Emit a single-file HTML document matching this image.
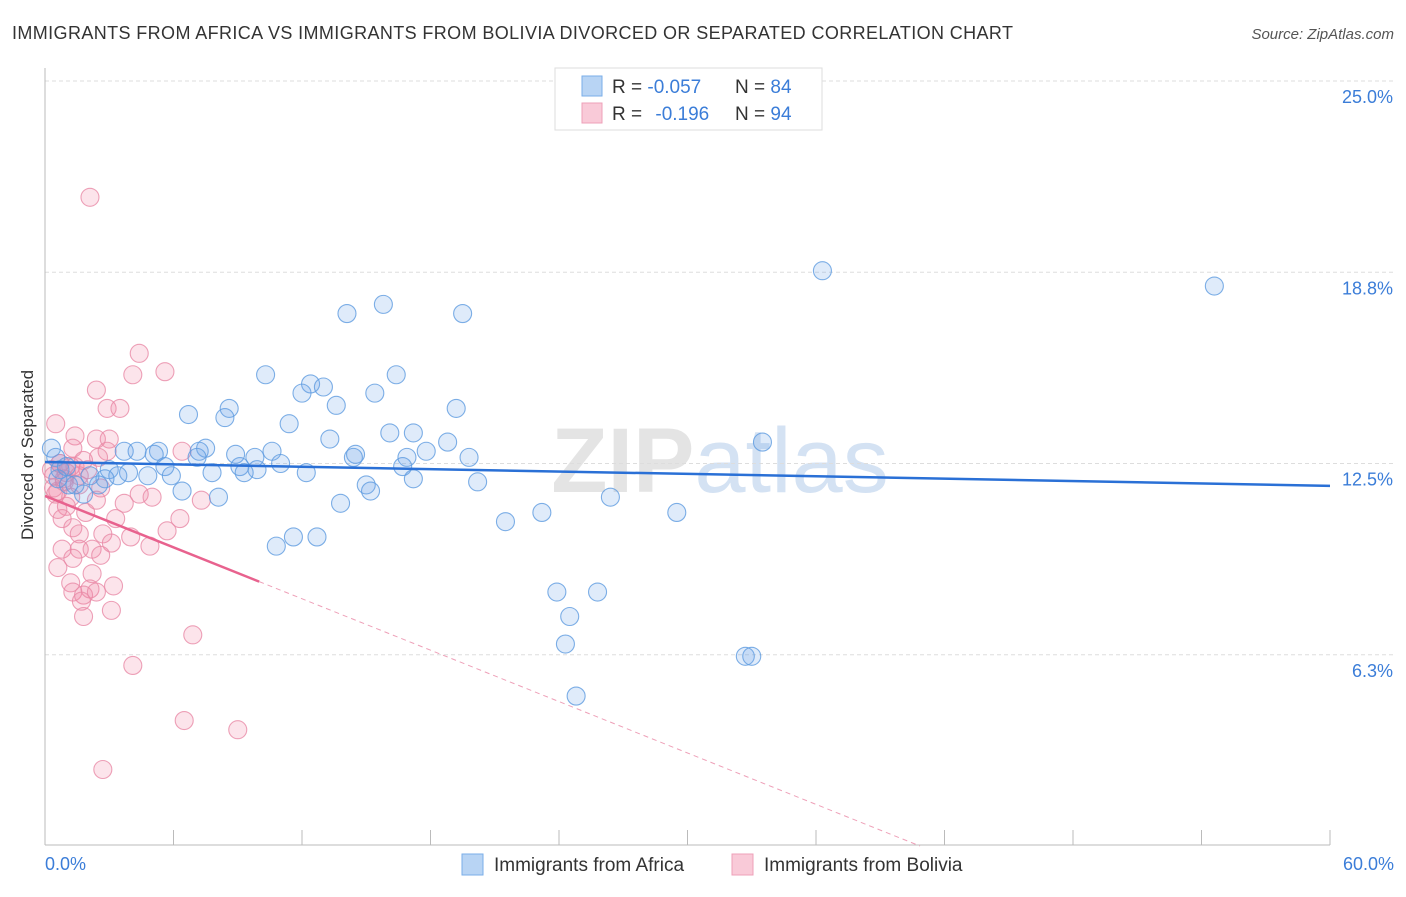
<!DOCTYPE html>
<html><head><meta charset="utf-8"><style>
body{margin:0;background:#fff;font-family:"Liberation Sans",sans-serif;}
svg text{font-family:"Liberation Sans",sans-serif;}
</style></head><body>
<svg id="chart" width="1406" height="892">
<text x="12" y="39" font-size="18" fill="#333" textLength="1001" lengthAdjust="spacing">IMMIGRANTS FROM AFRICA VS IMMIGRANTS FROM BOLIVIA DIVORCED OR SEPARATED CORRELATION CHART</text>
<text x="1394" y="39" font-size="15" fill="#555" font-style="italic" text-anchor="end">Source: ZipAtlas.com</text>
<text x="720" y="492" font-size="92" fill="#e4e4e4" text-anchor="middle" font-weight="bold">ZIP<tspan fill="#d4e2f3" font-weight="normal">atlas</tspan></text>
<g id="grid"></g>
<line x1="45" y1="68" x2="45" y2="845" stroke="#bbb"/>
<line x1="45" y1="845" x2="1330" y2="845" stroke="#bbb"/>
<g id="xticks"></g>
<text transform="translate(33,455) rotate(-90)" font-size="17" fill="#333" text-anchor="middle">Divorced or Separated</text>
<text x="45" y="870" font-size="18" fill="#3b7dd8">0.0%</text>
<text x="1394" y="870" font-size="18" fill="#3b7dd8" text-anchor="end">60.0%</text>
<g id="points"></g>
<g id="trends"></g>
<g>
<rect x="555" y="68" width="267" height="62" fill="#fff" stroke="#ddd"/>
<rect x="582" y="76" width="20" height="20" fill="#b8d4f4" stroke="#7aaee8"/>
<rect x="582" y="103" width="20" height="20" fill="#f9cad8" stroke="#eea0b8"/>
<text x="612" y="93" font-size="19" fill="#333">R = <tspan fill="#3b7dd8">-0.057</tspan><tspan x="735">N = </tspan><tspan fill="#3b7dd8">84</tspan></text>
<text x="612" y="120" font-size="19" fill="#333">R = <tspan fill="#3b7dd8" dx="8">-0.196</tspan><tspan x="735">N = </tspan><tspan fill="#3b7dd8">94</tspan></text>
</g>
<g>
<rect x="462" y="854" width="21" height="21" fill="#b8d4f4" stroke="#7aaee8"/>
<text x="494" y="871" font-size="19" fill="#333">Immigrants from Africa</text>
<rect x="732" y="854" width="21" height="21" fill="#f9cad8" stroke="#eea0b8"/>
<text x="764" y="871" font-size="19" fill="#333">Immigrants from Bolivia</text>
</g>
</svg>
<script>
const yTicks=[25.0,18.8,12.5,6.3];
const yTickVals=[25,18.75,12.5,6.25];
const africaX=[36.3,54.6,15.8,14.1,19.5,10.3,16.4,12.4,13.0,12.0,15.4,13.6,19.2,8.6,6.7,8.4,11.4,16.1,17.2,13.3,18.8,33.5,7.5,17.8,14.5,10.6,5.3,3.7,7.2,4.3,5.1,8.9,9.8,14.4,16.9,19.8,7.1,11.0,5.6,16.7,3.0,9.1,9.9,7.8,12.2,3.9,4.8,3.4,5.9,9.3,2.8,17.2,2.5,1.1,20.2,15.0,6.4,15.2,1.8,8.1,26.4,13.8,23.2,29.5,21.5,11.6,12.7,10.8,23.9,25.8,24.5,24.3,32.7,33.0,24.8,0.3,0.5,0.7,1.4,2.1,0.6,1.0];
const africaY=[18.8,18.3,17.7,17.4,17.4,15.4,15.4,15.1,15.0,14.8,14.8,14.4,14.3,14.3,14.1,14.0,13.8,13.5,13.5,13.3,13.2,13.2,13.0,12.9,12.8,12.9,12.9,12.9,12.9,12.9,12.8,12.8,12.7,12.7,12.7,12.7,12.7,12.5,12.4,12.4,12.3,12.4,12.3,12.2,12.2,12.2,12.1,12.1,12.1,12.2,12.0,12.0,11.8,11.8,11.9,11.8,11.6,11.6,11.5,11.4,11.4,11.2,10.9,10.9,10.6,10.1,10.1,9.8,8.3,8.3,7.5,6.6,6.2,6.2,4.9,13.0,12.7,12.3,11.8,12.1,12.0,12.4];
const boliviaX=[2.1,4.4,5.6,4.1,2.4,2.9,3.5,0.5,1.4,2.4,3.0,1.3,2.9,6.4,1.8,2.5,0.7,1.2,2.0,0.4,0.9,1.6,2.6,0.6,1.2,4.4,5.0,7.3,2.4,3.7,1.0,0.6,1.9,0.8,3.3,6.3,1.3,1.6,2.7,5.7,4.0,3.1,4.9,0.8,1.6,2.2,2.6,1.3,0.6,2.2,1.2,3.2,2.1,1.3,1.8,2.4,1.7,3.1,1.8,6.9,4.1,6.5,9.0,2.7,0.3,0.4,0.7,1.0,1.6,0.5,0.9,1.4];
const boliviaY=[21.2,16.1,15.5,15.4,14.9,14.3,14.3,13.8,13.4,13.3,13.3,13.0,12.9,12.9,12.6,12.7,12.5,12.4,12.3,12.1,12.0,11.8,11.7,11.6,11.4,11.5,11.4,11.3,11.3,11.2,11.1,11.0,10.9,10.7,10.7,10.7,10.4,10.2,10.2,10.3,10.1,9.9,9.8,9.7,9.7,9.7,9.5,9.4,9.1,8.9,8.6,8.5,8.4,8.3,8.2,8.3,8.0,7.7,7.5,6.9,5.9,4.1,3.8,2.5,12.3,11.7,12.5,12.2,12.1,11.5,11.9,12.4];
const africaTrend=[12.55,11.77];
const boliviaTrend=[11.44,-0.28];
const NS="http://www.w3.org/2000/svg";
const X=v=>45+v*(1285/60);
const Y=v=>846-v*30.6;
function mk(t,a,p){const e=document.createElementNS(NS,t);for(const k in a)e.setAttribute(k,a[k]);p.appendChild(e);return e;}
const grid=document.getElementById('grid');
yTickVals.forEach((v,i)=>{
 const l=mk('line',{x1:45,x2:1394,y1:Y(v),y2:Y(v),stroke:'#ddd','stroke-dasharray':'4,3'},grid);
 
 
 const t=mk('text',{x:1393,y:Y(v)+22,'font-size':18,fill:'#3b7dd8','text-anchor':'end'},grid);
 t.textContent=yTicks[i].toFixed(1)+'%';
 
 
});
const xt=document.getElementById('xticks');
for(let i=0;i<=10;i++){
 const l=mk('line',{x1:X(i*6),x2:X(i*6),y1:830,y2:845,stroke:'#bbb'},xt);
 
 
}
const pts=document.getElementById('points');
function draw(xs,ys,fill,stroke,name){
 xs.forEach((x,i)=>{
  const c=mk('circle',{cx:X(x),cy:Y(ys[i]),r:9,fill:fill,stroke:stroke,'stroke-width':1.1,'stroke-opacity':0.8},pts);
  
  
 });
}
draw(boliviaX,boliviaY,'rgba(240,130,165,0.22)','#e889a6','bolivia-point');
draw(africaX,africaY,'rgba(110,165,230,0.22)','#5e9be0','africa-point');
const tr=document.getElementById('trends');
const a=mk('line',{x1:X(0),y1:Y(africaTrend[0]),x2:X(60),y2:Y(africaTrend[1]),stroke:'#2a70d6','stroke-width':2.5},tr);


const bf=v=>boliviaTrend[0]+boliviaTrend[1]*v;
const b1=mk('line',{x1:X(0),y1:Y(bf(0)),x2:X(10),y2:Y(bf(10)),stroke:'#e8628e','stroke-width':2.5},tr);


const xEnd=-boliviaTrend[0]/boliviaTrend[1];
const b2=mk('line',{x1:X(10),y1:Y(bf(10)),x2:X(xEnd),y2:Y(0),stroke:'#eea0b8','stroke-width':1,'stroke-dasharray':'5,4'},tr);


</script>
</body></html>
